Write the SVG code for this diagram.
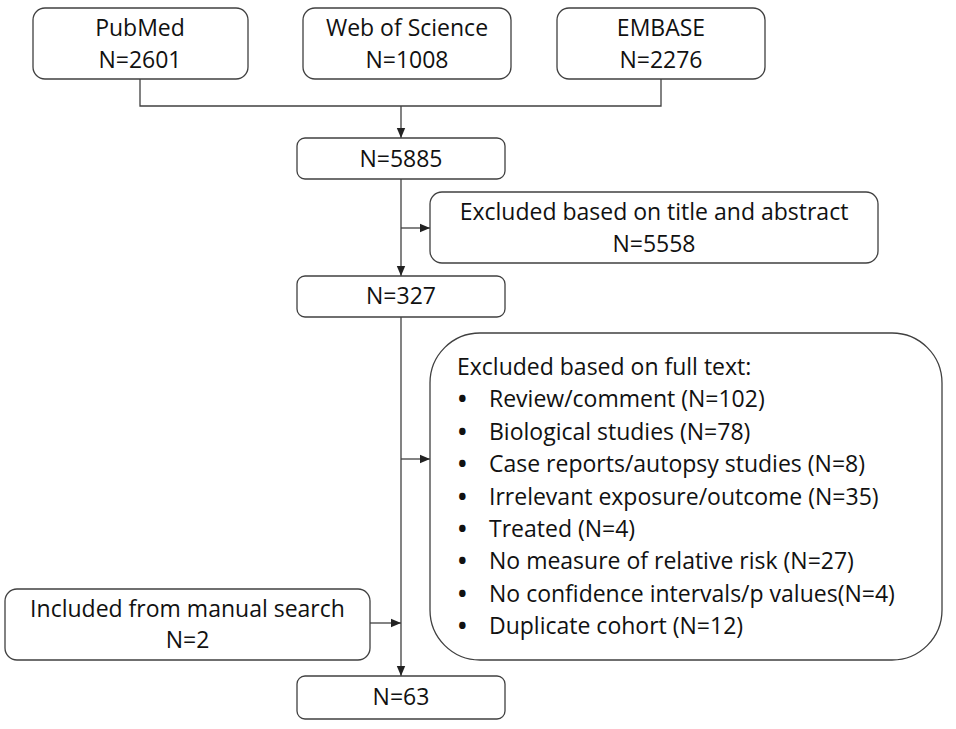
<svg xmlns="http://www.w3.org/2000/svg" width="956" height="729" viewBox="0 0 956 729">
<style>
.box{fill:#fff;stroke:#404040;stroke-width:1.3}
.t{font-family:"Open Sans","Liberation Sans",sans-serif;font-size:23px;fill:#111}
.c{text-anchor:middle}
.b{font-weight:bold}
.ln{fill:none;stroke:#404040;stroke-width:1.3}
</style>
<defs>
<marker id="ah" markerUnits="userSpaceOnUse" markerWidth="10" markerHeight="10" viewBox="0 0 10 10" refX="10" refY="5" orient="auto">
<path d="M0,0.8 L10,5 L0,9.2 Z" fill="#222"/>
</marker>
</defs>
<rect width="956" height="729" fill="#fff"/>
<g id="connectors">
<path class="ln" d="M140,79 V106 H661 V79"/>
<path class="ln" d="M401,106 V138" marker-end="url(#ah)"/>
<path class="ln" d="M401,179 V276" marker-end="url(#ah)"/>
<path class="ln" d="M401,228 H430" marker-end="url(#ah)"/>
<path class="ln" d="M401,317 V676" marker-end="url(#ah)"/>
<path class="ln" d="M401,459 H430" marker-end="url(#ah)"/>
<path class="ln" d="M370,623 H401" marker-end="url(#ah)"/>
</g>
<g id="pubmed">
<rect class="box" x="33" y="8" width="215" height="71" rx="12"/>
<text class="t c" x="140" y="36">PubMed</text>
<text class="t c" x="140" y="68">N=2601</text>
</g>
<g id="wos">
<rect class="box" x="303" y="8" width="208" height="71" rx="12"/>
<text class="t c" x="407" y="36">Web of Science</text>
<text class="t c" x="407" y="68">N=1008</text>
</g>
<g id="embase">
<rect class="box" x="557" y="8" width="208" height="71" rx="12"/>
<text class="t c" x="661" y="36">EMBASE</text>
<text class="t c" x="661" y="68">N=2276</text>
</g>
<g id="n5885">
<rect class="box" x="297" y="138" width="208" height="41" rx="8"/>
<text class="t c" x="401" y="167">N=5885</text>
</g>
<g id="excl1">
<rect class="box" x="430" y="192" width="448" height="71" rx="12"/>
<text class="t c" x="654" y="220">Excluded based on title and abstract</text>
<text class="t c" x="654" y="252">N=5558</text>
</g>
<g id="n327">
<rect class="box" x="297" y="276" width="208" height="41" rx="8"/>
<text class="t c" x="401" y="304">N=327</text>
</g>
<g id="excl2">
<rect class="box" x="430" y="333" width="512" height="327" rx="50"/>
<text class="t" x="457" y="375">Excluded based on full text:</text>
<g class="t">
<text class="b" x="458" y="407.4">•</text><text x="489" y="407.4">Review/comment (N=102)</text>
<text class="b" x="458" y="439.8">•</text><text x="489" y="439.8">Biological studies (N=78)</text>
<text class="b" x="458" y="472.2">•</text><text x="489" y="472.2">Case reports/autopsy studies (N=8)</text>
<text class="b" x="458" y="504.6">•</text><text x="489" y="504.6">Irrelevant exposure/outcome (N=35)</text>
<text class="b" x="458" y="537">•</text><text x="489" y="537">Treated (N=4)</text>
<text class="b" x="458" y="569.4">•</text><text x="489" y="569.4">No measure of relative risk (N=27)</text>
<text class="b" x="458" y="601.8">•</text><text x="489" y="601.8">No confidence intervals/p values(N=4)</text>
<text class="b" x="458" y="634.2">•</text><text x="489" y="634.2">Duplicate cohort (N=12)</text>
</g>
</g>
<g id="manual">
<rect class="box" x="5" y="589" width="365" height="71" rx="12"/>
<text class="t c" x="187.5" y="617">Included from manual search</text>
<text class="t c" x="187.5" y="648">N=2</text>
</g>
<g id="n63">
<rect class="box" x="297" y="676" width="208" height="43" rx="8"/>
<text class="t c" x="401" y="705">N=63</text>
</g>
</svg>
